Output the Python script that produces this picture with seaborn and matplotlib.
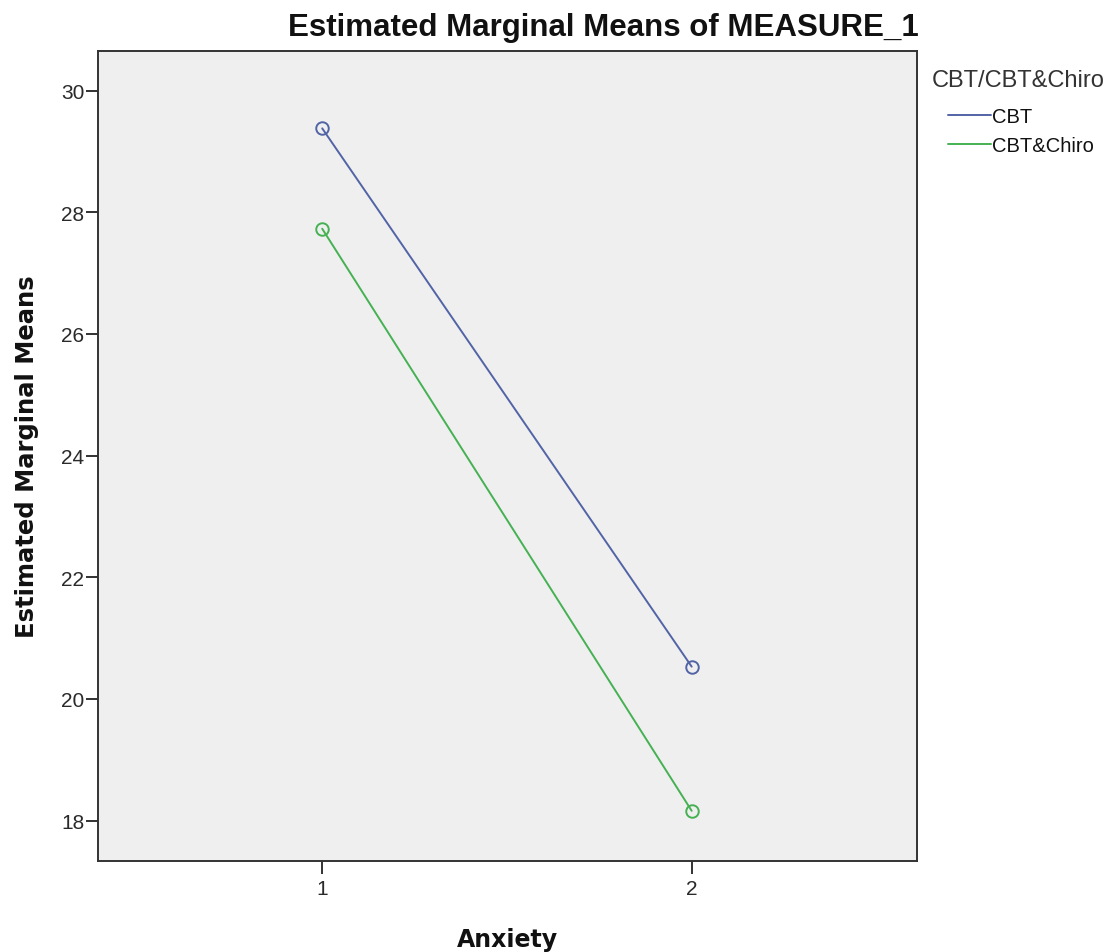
import matplotlib
matplotlib.use("Agg")
import matplotlib.pyplot as plt
from matplotlib.lines import Line2D
import seaborn as sns
import pandas as pd

# ---- data ----
anxiety_levels = [1, 2]
groups = ["CBT", "CBT&Chiro"]
cbt_means = [29.38, 20.53]
chiro_means = [27.73, 18.16]
y_ticks = [18, 20, 22, 24, 26, 28, 30]
x_ticks = [1, 2]

df = pd.DataFrame({
    "Anxiety": anxiety_levels * 2,
    "Mean": cbt_means + chiro_means,
    "Group": [groups[0]] * 2 + [groups[1]] * 2,
})

sns.set_theme(style="ticks")
plt.rcParams["font.family"] = ["Liberation Sans", "DejaVu Sans"]

colors = {"CBT": "#5264a6", "CBT&Chiro": "#45b153"}

W, H = 1118, 953
fig = plt.figure(figsize=(W / 100, H / 100), dpi=100)
ax = fig.add_axes([98.3 / W, 1 - 862.3 / H, (916.7 - 98.3) / W, (862.3 - 51.5) / H])
ax.set_facecolor("#efefef")

sns.lineplot(data=df, x="Anxiety", y="Mean", hue="Group", palette=colors,
             marker="o", markersize=9, markerfacecolor="none",
             markeredgewidth=1.4, linewidth=1.4, ax=ax, legend=False,
             errorbar=None)
for ln in ax.lines:
    ln.set_markeredgecolor(ln.get_color())
    ln.set_markerfacecolor("none")

ax.set_xlim(0.394, 2.609)
ax.set_ylim(17.33, 30.66)
ax.set_xticks(x_ticks)
ax.set_yticks(y_ticks)
ax.set_xticklabels([str(v) for v in x_ticks])
ax.set_yticklabels([str(v) for v in y_ticks])
ax.tick_params(axis="both", length=9, width=1.3, color="#222222",
               labelsize=15, labelcolor="#2a2a2a")
ax.tick_params(axis="y", pad=1)
ax.tick_params(axis="x", pad=4)
for s in ax.spines.values():
    s.set_color("#333333")
    s.set_linewidth(1.4)
ax.grid(False)

ax.set_xlabel("")
ax.set_ylabel("")
fig.text(507.5 / W, 1 - 947 / H, "Anxiety", ha="center", va="baseline",
         fontsize=17, fontweight="bold", family="DejaVu Sans", color="#111111")
fig.text(27 / W, 1 - 457 / H, "Estimated Marginal Means", ha="center", va="center",
         rotation=90, fontsize=17.5, fontweight="bold", family="DejaVu Sans",
         color="#111111")
fig.text(919 / W, 1 - 36 / H, "Estimated Marginal Means of MEASURE_1",
         ha="right", va="baseline", fontsize=22.5, fontweight="bold",
         color="#111111")

# legend
fig.text(931.7 / W, 1 - 87 / H, "CBT/CBT&Chiro", ha="left", va="baseline",
         fontsize=17, color="#333333")
handles = [Line2D([], [], color=colors[g], linewidth=1.4) for g in groups]
fig.legend(handles, groups, loc="upper left",
           bbox_to_anchor=(948 / W, 1 - 108 / H), frameon=False,
           fontsize=14.5, handlelength=2.15, handletextpad=0.05,
           borderpad=0, borderaxespad=0, labelspacing=0.48,
           labelcolor="#111111")

fig.savefig("out.png", dpi=100)
